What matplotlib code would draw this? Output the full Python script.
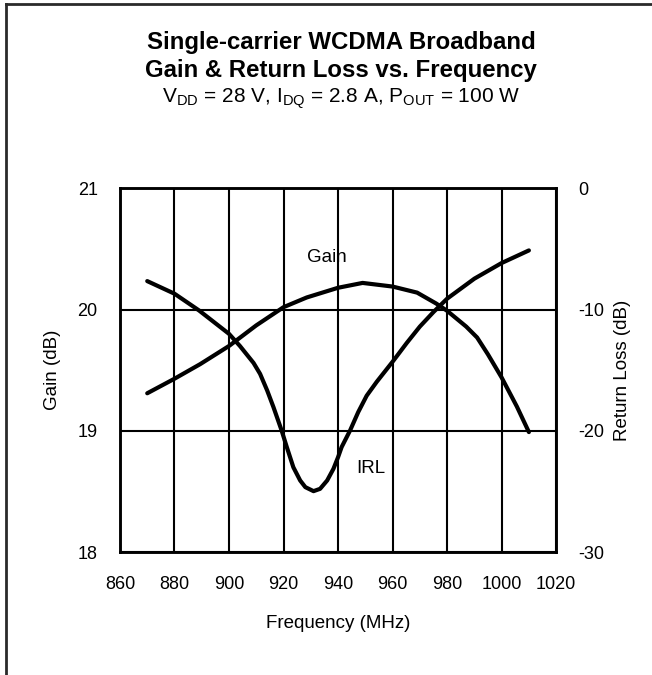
import matplotlib
matplotlib.use('Agg')
import matplotlib.pyplot as plt
from matplotlib.lines import Line2D

plt.rcParams['font.family'] = ['Liberation Sans', 'DejaVu Sans']
plt.rcParams['mathtext.default'] = 'regular'
plt.rcParams['axes.unicode_minus'] = False

# Gain curve (left axis, dB)
gain_freq = [870, 880, 889.4, 900, 910, 920, 928.5, 940, 949, 960, 969, 976, 980,
             987, 991, 995, 1000, 1005.6, 1010]
gain_db = [19.31, 19.43, 19.55, 19.70, 19.87, 20.02, 20.10, 20.18, 20.22, 20.19, 20.14,
           20.05, 19.99, 19.86, 19.77, 19.63, 19.44, 19.20, 18.99]

# Input return loss curve (right axis, dB)
irl_freq = [870, 880, 889, 900, 904, 909, 911.4, 914, 916.3, 919.3, 921.2, 923.6, 926.1,
            928, 931, 933.4, 936, 938.3, 940, 941.3, 944.4, 947.4, 950.5, 954.2, 960,
            965.2, 970, 975, 980, 990, 1000, 1010]
irl_db = [-7.65, -8.69, -10.07, -12.0, -13.0, -14.4, -15.3, -16.67, -18.04, -19.97,
          -21.34, -23.0, -24.09, -24.64, -24.97, -24.78, -24.09, -23.13, -22.17, -21.34,
          -19.97, -18.45, -17.1, -15.95, -14.3, -12.75, -11.4, -10.2, -9.10, -7.45,
          -6.16, -5.12]

x_ticks = [860, 880, 900, 920, 940, 960, 980, 1000, 1020]
gain_ticks = [18, 19, 20, 21]
rl_ticks = [-30, -20, -10, 0]

fig = plt.figure(figsize=(6.52, 6.75), dpi=100)
ax = fig.add_axes([0.184, 0.182, 0.669, 0.539])

ax.plot(gain_freq, gain_db, color='black', linewidth=3, solid_capstyle='round',
        solid_joinstyle='round', zorder=3)
ax.set_xlim(860, 1020)
ax.set_ylim(18, 21)
ax.set_xticks(x_ticks)
ax.set_yticks(gain_ticks)
ax.grid(True, color='black', linewidth=1.5)
ax.set_axisbelow(True)
ax.tick_params(axis='y', length=0, labelsize=13, pad=16)
ax.tick_params(axis='x', length=0, labelsize=13, pad=17)
for s in ax.spines.values():
    s.set_linewidth(1.8)

ax2 = ax.twinx()
ax2.plot(irl_freq, irl_db, color='black', linewidth=3, solid_capstyle='round',
         solid_joinstyle='round', zorder=3)
ax2.set_ylim(-30, 0)
ax2.set_yticks(rl_ticks)
ax2.tick_params(length=0, labelsize=13, pad=16)
for s in ax2.spines.values():
    s.set_linewidth(1.8)

ax.set_xlabel('Frequency (MHz)', fontsize=13.5, labelpad=16)
ax.set_ylabel('Gain (dB)', fontsize=13.5, labelpad=12)
ax2.set_ylabel('Return Loss (dB)', fontsize=13.5, labelpad=7)

ax.text(936, 20.43, 'Gain', fontsize=13.5, ha='center', va='center')
ax2.text(952, -23.1, 'IRL', fontsize=13.5, ha='center', va='center')

fig.text(0.523, 0.927, 'Single-carrier WCDMA Broadband', fontsize=17.3,
         fontweight='bold', ha='center', va='baseline')
fig.text(0.523, 0.8855, 'Gain & Return Loss vs. Frequency', fontsize=17.3,
         fontweight='bold', ha='center', va='baseline')
fig.text(0.523, 0.8474, r'V$_{DD}$ = 28 V, I$_{DQ}$ = 2.8 A, P$_{OUT}$ = 100 W',
         fontsize=15, ha='center', va='baseline')

# frame around the figure (top and left edges visible)
fig.add_artist(Line2D([0.009, 0.009], [0.0, 0.994], transform=fig.transFigure,
                      color='#2a2a2a', linewidth=2))
fig.add_artist(Line2D([0.009, 1.0], [0.994, 0.994], transform=fig.transFigure,
                      color='#2a2a2a', linewidth=2))

fig.savefig('out.png', dpi=100)
